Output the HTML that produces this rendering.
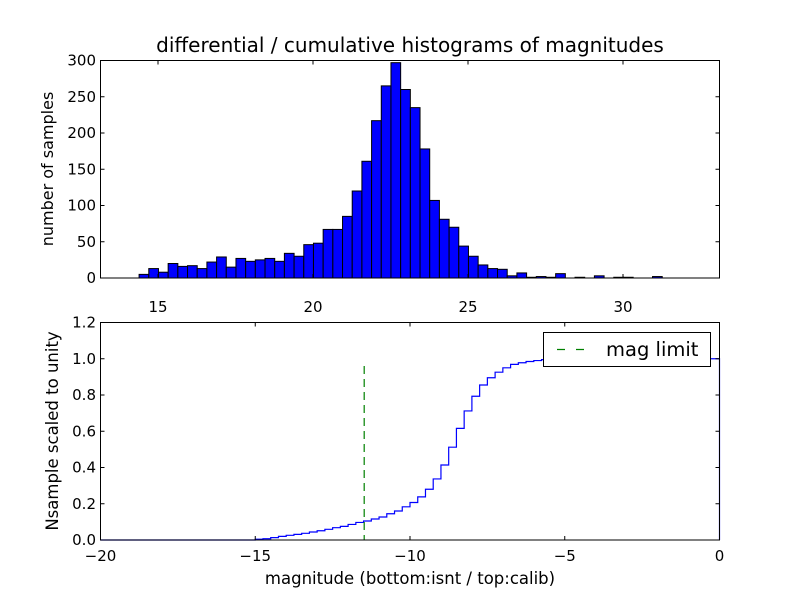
<!DOCTYPE html>
<html><head><meta charset="utf-8"><style>
body{margin:0;background:#fff}
svg text{font-family:"DejaVu Sans","Liberation Sans",sans-serif;fill:#000}
</style></head><body>
<svg id="c" width="800" height="600" xmlns="http://www.w3.org/2000/svg">
<rect width="800" height="600" fill="#fff"/>
</svg>
<script>
const histCounts=[5,13,8,20,16,17,13,22,29,15,27,23,25,27,23,34,30,46,48,67,67,85,120,161,217,265,297,260,235,178,107,81,70,44,30,18,13,12,3,7,1,2,1,6,0,1,0,3,0,1,1,0,0,2];
const histStart=14.39, histBinWidth=0.3125;
const topXTicks=[15,20,25,30];
const topYTicks=[0,50,100,150,200,250,300];
const cumValues=[0.004,0.007,0.013,0.02,0.026,0.031,0.037,0.044,0.051,0.059,0.068,0.075,0.086,0.097,0.105,0.116,0.127,0.145,0.16,0.183,0.207,0.238,0.28,0.337,0.414,0.512,0.616,0.712,0.793,0.855,0.895,0.926,0.95,0.969,0.978,0.985,0.99,0.995,1.0];
const cumStart=-15, cumBinWidth=0.25;
const magLimit=-11.48, magLimitTop=0.96;
const botXTicks=[-20,-15,-10,-5,0];
const botYTicks=[0.0,0.2,0.4,0.6,0.8,1.0,1.2];

const NS="http://www.w3.org/2000/svg";
const svg=document.getElementById('c');
function mk(tag,attrs,parent){const e=document.createElementNS(NS,tag);for(const k in attrs)e.setAttribute(k,attrs[k]);(parent||svg).appendChild(e);return e;}
const tL=100.5,tR=719.5,tT=60.5,tB=278;
const txS=v=>158+(v-15)*31;
const tyS=v=>tB-(v/300)*(tB-tT);
const bL=100.5,bR=719.5,bT=322.5,bB=540;
const bxS=v=>bL+(v+20)/20*(bR-bL);
const byS=v=>bB-(v/1.2)*(bB-bT);

const gTop=mk('g',{});


histCounts.forEach((c,i)=>{
  const x0=txS(histStart+i*histBinWidth),x1=txS(histStart+(i+1)*histBinWidth);
  const r=mk('rect',{x:x0,y:tyS(c),width:x1-x0,height:tB-tyS(c),fill:'#0000ff',stroke:'#000','stroke-width':1},gTop);
  
  
});
mk('rect',{x:tL,y:tT,width:tR-tL,height:tB-tT,fill:'none',stroke:'#000','stroke-width':1},gTop);
topXTicks.forEach(v=>{const x=txS(v);
  mk('line',{x1:x,x2:x,y1:tB,y2:tB-4,stroke:'#000'},gTop);
  mk('line',{x1:x,x2:x,y1:tT,y2:tT+4,stroke:'#000'},gTop);
  const t=mk('text',{x:x,y:312,'font-size':15,'text-anchor':'middle'},gTop);t.textContent=v;
  
  
});
topYTicks.forEach(v=>{const y=tyS(v);
  mk('line',{x1:tL,x2:tL+4,y1:y,y2:y,stroke:'#000'},gTop);
  mk('line',{x1:tR,x2:tR-4,y1:y,y2:y,stroke:'#000'},gTop);
  const t=mk('text',{x:96,y:y+5,'font-size':15,'text-anchor':'end'},gTop);t.textContent=v;
  
  
});
let t=mk('text',{x:410,y:52,'font-size':20,'text-anchor':'middle'});t.textContent='differential / cumulative histograms of magnitudes';


t=mk('text',{x:0,y:0,'font-size':16,'text-anchor':'middle',transform:'translate(53,169) rotate(-90)'});t.textContent='number of samples';



const gBot=mk('g',{});


let d='M'+bL+','+bB+' L'+bxS(cumStart)+','+bB;
cumValues.forEach((v,i)=>{const x0=bxS(cumStart+i*cumBinWidth),x1=bxS(cumStart+(i+1)*cumBinWidth);
  d+=' L'+x0+','+byS(v)+' L'+x1+','+byS(v);});
d+=' L'+bxS(0)+','+byS(cumValues[cumValues.length-1])+' L'+bxS(0)+','+bB;
const p=mk('path',{d:d,fill:'none',stroke:'#0000ff','stroke-width':1.2},gBot);


const ml=mk('line',{x1:bxS(magLimit),x2:bxS(magLimit),y1:byS(magLimitTop),y2:bB,stroke:'#008000','stroke-width':1.2,'stroke-dasharray':'8,5'},gBot);


mk('rect',{x:bL,y:bT,width:bR-bL,height:bB-bT,fill:'none',stroke:'#000','stroke-width':1},gBot);
botXTicks.forEach(v=>{const x=bxS(v);
  mk('line',{x1:x,x2:x,y1:bB,y2:bB-4,stroke:'#000'},gBot);
  mk('line',{x1:x,x2:x,y1:bT,y2:bT+4,stroke:'#000'},gBot);
  const t=mk('text',{x:x,y:561,'font-size':15,'text-anchor':'middle'},gBot);t.textContent=(v<0?'\u2212'+(-v):v);
  
  
});
botYTicks.forEach(v=>{const y=byS(v);
  mk('line',{x1:bL,x2:bL+4,y1:y,y2:y,stroke:'#000'},gBot);
  mk('line',{x1:bR,x2:bR-4,y1:y,y2:y,stroke:'#000'},gBot);
  const t=mk('text',{x:96,y:y+5,'font-size':15,'text-anchor':'end'},gBot);t.textContent=v.toFixed(1);
  
  
});
t=mk('text',{x:0,y:0,'font-size':16.5,'text-anchor':'middle',transform:'translate(58,431) rotate(-90)'});t.textContent='Nsample scaled to unity';


t=mk('text',{x:410,y:584,'font-size':16.5,'text-anchor':'middle'});t.textContent='magnitude (bottom:isnt / top:calib)';


const lg=mk('g',{});


mk('rect',{x:543.5,y:332.5,width:167,height:34,fill:'#fff',stroke:'#000','stroke-width':1},lg);
mk('line',{x1:557,x2:584,y1:349.5,y2:349.5,stroke:'#008000','stroke-width':1.2,'stroke-dasharray':'8,11'},lg);
t=mk('text',{x:606,y:356,'font-size':19.5},lg);t.textContent='mag limit';


</script>
</body></html>
